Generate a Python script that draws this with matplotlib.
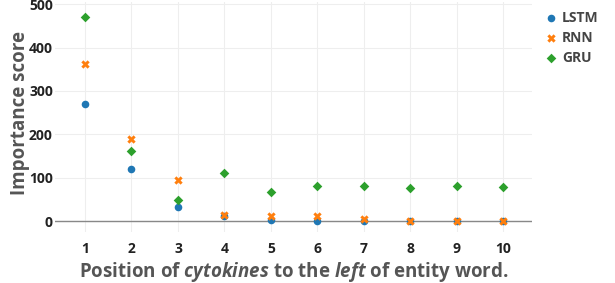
import matplotlib
matplotlib.use("Agg")
import matplotlib.pyplot as plt

positions = [1, 2, 3, 4, 5, 6, 7, 8, 9, 10]
lstm = [269, 120, 33, 12, 2, 0.5, 0.5, 0, 0, 0]
rnn = [363, 190, 95, 15, 12, 11, 6, 0.5, 0.5, 0.5]
gru = [471, 162, 50, 112, 68, 82, 82, 77, 80, 79]
y_ticks = [0, 100, 200, 300, 400, 500]

plt.rcParams["font.family"] = ["Open Sans", "DejaVu Sans"]
plt.rcParams["mathtext.fontset"] = "custom"
plt.rcParams["mathtext.rm"] = "Open Sans:bold"
plt.rcParams["mathtext.it"] = "Open Sans:italic:bold"
plt.rcParams["mathtext.bf"] = "Open Sans:bold"

fig = plt.figure(figsize=(6.15, 2.83), dpi=100)
ax = fig.add_axes([0.0894, 0.18, 0.776, 0.813])

series = [
    ("LSTM", lstm, "o", "#1f77b4", 30),
    ("RNN", rnn, "X", "#ff7f0e", 36),
    ("GRU", gru, "D", "#2ca02c", 24),
]
handles = []
for name, vals, marker, color, size in series:
    h = ax.scatter(positions, vals, marker=marker, s=size, color=color,
                   linewidths=0, zorder=3, label=name)
    handles.append(h)

ax.set_xlim(0.355, 10.62)
ax.set_ylim(-25, 505)
ax.set_xticks(positions)
ax.set_yticks(y_ticks)
ax.grid(True, color="#eeeeee", linewidth=0.8)
ax.set_axisbelow(True)
ax.axhline(0, color="#888888", linewidth=1.0, zorder=2)
for s in ax.spines.values():
    s.set_visible(False)
ax.tick_params(length=0, labelsize=10, labelcolor="#222222")
ax.tick_params(axis="x", pad=7)
ax.tick_params(axis="y", pad=1.5)
for lbl in ax.get_xticklabels() + ax.get_yticklabels():
    lbl.set_fontweight("bold")

fig.text(294 / 615, 1 - 272 / 283,
         r"Position of $\mathit{cytokines}$ to the $\mathit{left}$ of entity word.",
         fontsize=13.5, color="#555555", fontweight="bold",
         ha="center", va="center")
fig.text(20 / 615, 1 - 113 / 283, "Importance score", fontsize=13.5,
         color="#555555", fontweight="bold", rotation=90,
         ha="center", va="center")

leg = fig.legend(handles=handles, loc="upper left", bbox_to_anchor=(0.862, 1.005),
                 frameon=False, handletextpad=0.2, labelspacing=0.42,
                 prop={"weight": "bold", "size": 10}, handlelength=1.2)
for t in leg.get_texts():
    t.set_color("#444444")

fig.savefig("out.png", dpi=100)
